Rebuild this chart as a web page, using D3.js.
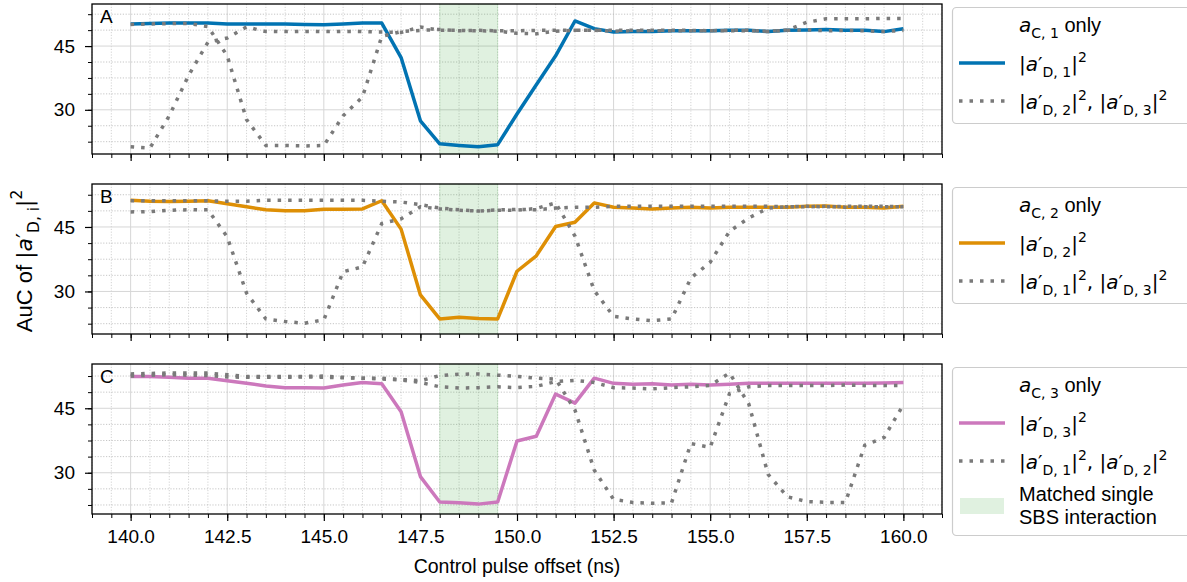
<!DOCTYPE html>
<html>
<head>
<meta charset="utf-8">
<script src="https://cdn.jsdelivr.net/npm/d3@7/dist/d3.min.js"></script>
<style>
  html, body { margin: 0; padding: 0; background: #fff; }
  svg { display: block; }
</style>
</head>
<body>
<svg id="chart" width="1187" height="582"></svg>
<script>
// ---------------- data ----------------
const offsets = [140.0, 140.5, 141.0, 141.5, 142.0, 142.5, 143.0, 143.5, 144.0, 144.5,
                 145.0, 145.5, 146.0, 146.5, 147.0, 147.5, 148.0, 148.5, 149.0, 149.5,
                 150.0, 150.5, 151.0, 151.5, 152.0, 152.5, 153.0, 153.5, 154.0, 154.5,
                 155.0, 155.5, 156.0, 156.5, 157.0, 157.5, 158.0, 158.5, 159.0, 159.5, 160.0];

// Panel A: control a_C,1 only
const panelA_D1 = [50.2, 50.3, 50.4, 50.4, 50.4, 50.2, 50.2, 50.2, 50.2, 50.1,
                   50.0, 50.2, 50.4, 50.4, 42.3, 27.4, 22.0, 21.6, 21.3, 21.8,
                   29.0, 35.9, 42.7, 50.9, 49.1, 48.3, 48.4, 48.4, 48.6, 48.6,
                   48.6, 48.7, 48.7, 48.4, 48.7, 48.8, 48.9, 48.7, 48.7, 48.4, 49.1];
const panelA_D2 = [50.1, 50.2, 50.3, 50.3, 49.6, 42.7, 27.7, 21.6, 21.6, 21.5,
                   21.6, 28.6, 33.0, 47.3, 48.4, 48.7, 48.9, 48.6, 48.7, 48.6,
                   48.6, 48.7, 48.7, 48.7, 48.7, 48.5, 48.6, 48.6, 48.6, 48.6,
                   48.6, 48.6, 48.6, 48.5, 48.8, 50.6, 51.4, 51.4, 51.4, 51.5, 51.5];
const panelA_D3 = [21.3, 21.0, 28.6, 38.1, 45.9, 46.9, 49.5, 48.4, 48.4, 48.4,
                   48.4, 48.4, 48.4, 48.3, 48.2, 49.5, 48.7, 48.7, 48.6, 48.5,
                   48.0, 47.9, 48.5, 48.7, 48.7, 48.7, 48.7, 48.7, 48.7, 48.7,
                   48.6, 48.7, 48.7, 48.4, 48.7, 48.8, 48.6, 48.7, 48.6, 48.4, 48.7];

// Panel B: control a_C,2 only
const panelB_D2 = [51.2, 51.0, 50.9, 51.0, 51.1, 50.4, 49.7, 49.0, 48.8, 48.8,
                   49.1, 49.1, 49.2, 51.1, 44.5, 29.2, 23.6, 24.0, 23.7, 23.6,
                   34.7, 38.3, 45.1, 46.1, 50.6, 49.6, 49.4, 49.2, 49.4, 49.6,
                   49.4, 49.6, 49.6, 49.6, 49.6, 49.8, 49.9, 49.6, 49.6, 49.4, 49.8];
const panelB_D1 = [51.1, 51.1, 51.1, 51.1, 51.1, 51.0, 51.0, 51.2, 51.2, 51.2,
                   51.2, 51.2, 51.2, 51.0, 50.8, 50.2, 49.4, 49.0, 48.7, 48.9,
                   48.9, 49.3, 50.6, 42.9, 30.2, 24.2, 23.6, 23.2, 23.6, 33.1,
                   36.8, 44.0, 47.1, 49.4, 49.7, 49.7, 49.8, 49.6, 49.7, 49.7, 49.7];
const panelB_D3 = [48.5, 48.6, 48.9, 49.0, 49.0, 42.7, 29.6, 23.6, 23.0, 22.6,
                   23.4, 34.6, 35.7, 45.8, 46.9, 49.7, 49.2, 48.9, 48.7, 49.0,
                   49.1, 49.0, 49.4, 49.6, 49.6, 49.8, 49.8, 49.8, 49.8, 49.8,
                   49.8, 49.8, 49.8, 49.8, 49.7, 49.8, 49.7, 49.8, 49.8, 49.8, 49.7];

// Panel C: control a_C,3 only
const panelC_D3 = [52.4, 52.4, 52.2, 52.0, 52.0, 51.4, 50.8, 50.2, 49.8, 49.8,
                   49.7, 50.4, 51.0, 50.7, 44.2, 29.1, 23.2, 23.0, 22.7, 23.2,
                   37.4, 38.5, 48.3, 46.2, 52.0, 50.8, 50.6, 50.7, 50.4, 50.6,
                   50.4, 50.6, 50.8, 50.8, 50.8, 50.8, 50.8, 50.8, 50.8, 50.9, 51.0];
const panelC_D1 = [53.0, 53.1, 53.2, 53.2, 53.2, 52.8, 52.4, 52.4, 52.4, 52.4,
                   52.5, 52.2, 52.0, 52.0, 51.7, 51.4, 52.6, 52.9, 53.0, 52.7,
                   52.4, 52.0, 51.8, 44.6, 30.6, 23.8, 23.1, 22.9, 23.0, 36.8,
                   35.9, 48.4, 50.0, 50.3, 50.3, 50.3, 50.3, 50.4, 50.3, 50.3, 50.3];
const panelC_D2 = [52.5, 52.7, 52.8, 52.7, 52.6, 52.3, 52.2, 52.2, 52.2, 52.3,
                   52.2, 52.1, 52.0, 51.8, 51.6, 51.0, 50.0, 49.7, 49.8, 50.0,
                   49.8, 50.1, 51.2, 51.5, 51.0, 49.8, 49.7, 49.5, 49.8, 50.0,
                   50.3, 53.2, 46.0, 29.6, 24.4, 23.3, 23.1, 23.1, 36.4, 38.2, 45.8];

const panelLetters = ["A", "B", "C"];
const controlIndex = ["1", "2", "3"];
const mainIndex = ["1", "2", "3"];
const otherIndices = [["2", "3"], ["1", "3"], ["1", "2"]];
const mainColors = ["#0173b2", "#de8f05", "#cc78bc"];
const greyColor = "#7a7a7a";
const bandRange = [148.0, 149.5];
const xTickLabels = [140.0, 142.5, 145.0, 147.5, 150.0, 152.5, 155.0, 157.5, 160.0];
const yTickLabels = [30, 45];
const yDomains = [[19.6, 54.9], [20.1, 55.0], [20.4, 55.3]];
const xLabel = "Control pulse offset (ns)";

// ---------------- layout ----------------
const W = 1187, H = 582;
const left = 92, right = 942;
const panelTops = [4, 184, 364];
const panelH = 150;
const TEXT = "'Liberation Sans', Arial, Helvetica, sans-serif";
const MATH = "'DejaVu Sans', sans-serif";

const svg = d3.select("#chart");
svg.append("rect").attr("width", W).attr("height", H).attr("fill", "#fff");

const x = d3.scaleLinear().domain([139, 161]).range([left, right]);

const panels = [
  { main: panelA_D1, others: [panelA_D2, panelA_D3] },
  { main: panelB_D2, others: [panelB_D1, panelB_D3] },
  { main: panelC_D3, others: [panelC_D1, panelC_D2] }
];

function richText(parent, xp, yp, parts, size, anchor) {
  const t = parent.append("text").attr("x", xp).attr("y", yp)
    .attr("font-size", size).attr("fill", "#000");
  if (anchor) t.attr("text-anchor", anchor);
  let cur = 0;
  parts.forEach(p => {
    const shift = p.sub ? size * 0.3 : (p.sup ? -size * 0.45 : 0);
    const ts = t.append("tspan").text(p.t).attr("dy", shift - cur);
    cur = shift;
    ts.attr("font-family", p.math ? MATH : TEXT);
    if (p.it) ts.attr("font-style", "italic");
    if (p.sub || p.sup) ts.attr("font-size", size * 0.7);
  });
  return t;
}
function absParts(idx) {
  return [
    { t: "|", math: true }, { t: "a", math: true, it: true }, { t: "\u2032", math: true },
    { t: "D, " + idx, math: true, sub: true }, { t: "|", math: true }, { t: "2", math: true, sup: true }
  ];
}

const xMinor = d3.range(139, 161.001, 0.5);
const xMajor = xMinor.filter(v => Math.abs(v / 2.5 - Math.round(v / 2.5)) < 1e-9);

panels.forEach((p, i) => {
  const top = panelTops[i], bottom = top + panelH;
  const y = d3.scaleLinear().domain(yDomains[i]).range([bottom, top]);
  const g = svg.append("g");
  const clipId = "clip" + i;
  svg.append("clipPath").attr("id", clipId).append("rect")
    .attr("x", left).attr("y", top).attr("width", right - left).attr("height", panelH);

  const yMinor = d3.range(15, 60, 3.75).filter(v => v >= yDomains[i][0] && v <= yDomains[i][1]);
  const yMajor = yTickLabels;

  // grid
  const grid = g.append("g");
  xMinor.forEach(v => {
    const isMaj = xMajor.includes(v);
    grid.append("line").attr("x1", x(v)).attr("x2", x(v)).attr("y1", top).attr("y2", bottom)
      .attr("stroke", isMaj ? "#d6d6d6" : "#c8c8c8").attr("stroke-width", isMaj ? 1 : 0.8)
      .attr("stroke-dasharray", isMaj ? null : "1.2,1.6");
  });
  yMinor.forEach(v => {
    const isMaj = yMajor.includes(v);
    grid.append("line").attr("x1", left).attr("x2", right).attr("y1", y(v)).attr("y2", y(v))
      .attr("stroke", isMaj ? "#d6d6d6" : "#b8b8b8").attr("stroke-width", isMaj ? 1 : 0.8)
      .attr("stroke-dasharray", isMaj ? null : "1.2,1.6");
  });

  // band
  g.append("rect").attr("x", x(bandRange[0])).attr("width", x(bandRange[1]) - x(bandRange[0]))
    .attr("y", top).attr("height", panelH)
    .attr("fill", "#2ca02c").attr("fill-opacity", 0.15)
    .attr("stroke", "#2ca02c").attr("stroke-opacity", 0.15).attr("stroke-width", 1);

  const line = d3.line().x((d, k) => x(offsets[k])).y(d => y(d));
  const lg = g.append("g").attr("clip-path", `url(#${clipId})`);
  lg.append("path").datum(p.main).attr("d", line).attr("fill", "none")
    .attr("stroke", mainColors[i]).attr("stroke-width", 3.5).attr("stroke-linejoin", "round");
  p.others.forEach(s => {
    lg.append("path").datum(s).attr("d", line).attr("fill", "none")
      .attr("stroke", greyColor).attr("stroke-width", 3.5).attr("stroke-dasharray", "3.5,7");
  });

  // frame
  g.append("rect").attr("x", left).attr("y", top).attr("width", right - left).attr("height", panelH)
    .attr("fill", "none").attr("stroke", "#000").attr("stroke-width", 1.3);

  // x ticks
  const xAxis = d3.axisBottom(x).tickValues(xMinor).tickSize(4).tickFormat("");
  g.append("g").attr("transform", `translate(0,${bottom})`).call(xAxis)
    .call(a => a.select(".domain").remove())
    .call(a => a.selectAll("line").attr("stroke", "#000").attr("stroke-width", 1));
  const xAxisMaj = d3.axisBottom(x).tickValues(xTickLabels).tickSize(7)
    .tickFormat(i === 2 ? d3.format(".1f") : "");
  const xa = g.append("g").attr("transform", `translate(0,${bottom})`).call(xAxisMaj);
  xa.select(".domain").remove();
  xa.selectAll("line").attr("stroke", "#000").attr("stroke-width", 1.2);
  xa.selectAll("text").attr("font-family", TEXT).attr("font-size", 19).attr("fill", "#000").attr("dy", "1.0em");

  // y ticks
  const yAxisMin = d3.axisLeft(y).tickValues(yMinor).tickSize(4).tickFormat("");
  g.append("g").attr("transform", `translate(${left},0)`).call(yAxisMin)
    .call(a => a.select(".domain").remove())
    .call(a => a.selectAll("line").attr("stroke", "#000").attr("stroke-width", 1));
  const ya = g.append("g").attr("transform", `translate(${left},0)`)
    .call(d3.axisLeft(y).tickValues(yMajor).tickSize(7).tickPadding(10).tickFormat(d3.format("d")));
  ya.select(".domain").remove();
  ya.selectAll("line").attr("stroke", "#000").attr("stroke-width", 1.2);
  ya.selectAll("text").attr("font-family", TEXT).attr("font-size", 19).attr("fill", "#000");

  // panel letter
  g.append("text").attr("x", 100).attr("y", top + 19).text(panelLetters[i])
    .attr("font-family", TEXT).attr("font-size", 19).attr("fill", "#000");

  // legend
  const legTop = top + 3;
  const legH = i === 2 ? 168 : 116;
  const lgd = svg.append("g");
  lgd.append("rect").attr("x", 952.5).attr("y", legTop + 0.5).attr("width", 250).attr("height", legH)
    .attr("rx", 4).attr("fill", "#fff").attr("stroke", "#cccccc").attr("stroke-width", 1.2);
  richText(lgd, 1019, legTop + 25, [
    { t: "a", math: true, it: true }, { t: "C, " + controlIndex[i], math: true, sub: true },
    { t: " only", math: false }
  ], 20);
  lgd.append("line").attr("x1", 959).attr("x2", 1005).attr("y1", legTop + 56).attr("y2", legTop + 56)
    .attr("stroke", mainColors[i]).attr("stroke-width", 3.5);
  richText(lgd, 1019, legTop + 64, absParts(mainIndex[i]), 20);
  lgd.append("line").attr("x1", 959).attr("x2", 1005).attr("y1", legTop + 94).attr("y2", legTop + 94)
    .attr("stroke", greyColor).attr("stroke-width", 3.5).attr("stroke-dasharray", "3.5,7");
  const oth = otherIndices[i];
  richText(lgd, 1019, legTop + 102,
    absParts(oth[0]).concat([{ t: ", ", math: true }]).concat(absParts(oth[1])), 20);
  if (i === 2) {
    lgd.append("rect").attr("x", 960).attr("y", legTop + 131).attr("width", 44).attr("height", 16)
      .attr("fill", "#2ca02c").attr("fill-opacity", 0.15);
    lgd.append("text").attr("x", 1019).attr("y", legTop + 134).text("Matched single")
      .attr("font-family", TEXT).attr("font-size", 20).attr("fill", "#000");
    lgd.append("text").attr("x", 1019).attr("y", legTop + 157).text("SBS interaction")
      .attr("font-family", TEXT).attr("font-size", 20).attr("fill", "#000");
  }
});

// axis labels
svg.append("text").attr("x", (left + right) / 2).attr("y", 573).attr("text-anchor", "middle")
  .text(xLabel).attr("font-family", TEXT).attr("font-size", 19.5).attr("fill", "#000");

const yl = svg.append("g").attr("transform", "translate(32,261) rotate(-90)");
richText(yl, 0, 0, [
  { t: "AuC of ", math: false }, { t: "|", math: true }, { t: "a", math: true, it: true },
  { t: "\u2032", math: true }, { t: "D, i", math: true, sub: true }, { t: "|", math: true },
  { t: "2", math: true, sup: true }
], 22, "middle");
</script>
</body>
</html>
